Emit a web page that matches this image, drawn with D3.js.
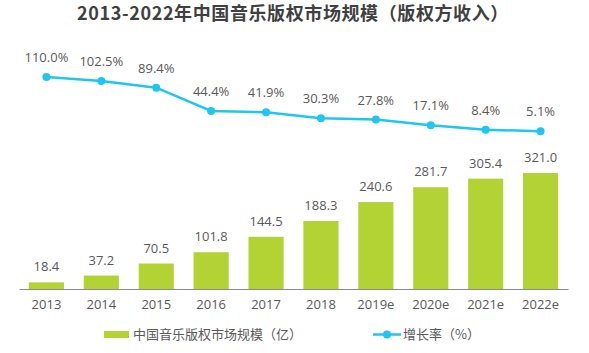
<!DOCTYPE html>
<html>
<head>
    <meta charset="utf-8">
    <script src="https://d3js.org/d3.v7.min.js"></script>
    <style>
        body { margin: 0; background: #fff; }
        text { font-family: "Open Sans", "Noto Sans CJK SC", sans-serif; }
    </style>
</head>
<body>
    <svg width="589" height="353" id="mainSvg"></svg>
    <script>
        const years = ["2013", "2014", "2015", "2016", "2017", "2018", "2019e", "2020e", "2021e", "2022e"];
        const marketSize = [18.4, 37.2, 70.5, 101.8, 144.5, 188.3, 240.6, 281.7, 305.4, 321.0];
        const growthRate = [110.0, 102.5, 89.4, 44.4, 41.9, 30.3, 27.8, 17.1, 8.4, 5.1];

        const svg = d3.select("#mainSvg");
        const barColor = "#b3d335", lineColor = "#1fc6f0", textColor = "#595959";
        const baseY = 289;

        const x = d3.scaleBand().domain(years).range([19, 568]).paddingInner(0.36).paddingOuter(0.18);
        const yBar = d3.scaleLinear().domain([0, 321]).range([baseY, 173]);
        const yLine = d3.scaleLinear().domain([0, 110]).range([134, 77]);

        // title
        svg.append("text")
            .attr("x", 293).attr("y", 20)
            .attr("text-anchor", "middle")
            .attr("font-size", 18).attr("font-weight", "bold")
            .attr("fill", "#404040")
            .style("font-family", "'Noto Sans CJK SC', sans-serif")
            .style("letter-spacing", "0.6px")
            .text("2013-2022年中国音乐版权市场规模（版权方收入）");

        // bars
        svg.selectAll(".bar").data(marketSize).join("rect")
            .attr("class", "bar")
            .attr("x", (d, i) => x(years[i]))
            .attr("y", d => yBar(d))
            .attr("width", x.bandwidth())
            .attr("height", d => baseY - yBar(d))
            .attr("fill", barColor);

        svg.selectAll(".barLabel").data(marketSize).join("text")
            .attr("class", "barLabel")
            .attr("x", (d, i) => x(years[i]) + x.bandwidth() / 2)
            .attr("y", d => yBar(d) - 11)
            .attr("text-anchor", "middle")
            .attr("font-size", 13).attr("fill", textColor)
            .text(d => d.toFixed(1));

        // x axis
        const xAxis = d3.axisBottom(x).tickSize(0).tickPadding(11);
        const axisG = svg.append("g").attr("transform", `translate(0, ${baseY})`).call(xAxis);
        axisG.select(".domain").attr("stroke", "#8c8c8c").attr("stroke-width", 1.2);
        axisG.selectAll("text").attr("font-size", 13).attr("fill", textColor)
            .style("font-family", "'Open Sans', sans-serif");

        // line
        const cx = i => x(years[i]) + x.bandwidth() / 2;
        const line = d3.line().x((d, i) => cx(i)).y(d => yLine(d));
        svg.append("path").datum(growthRate)
            .attr("d", line)
            .attr("fill", "none")
            .attr("stroke", lineColor)
            .attr("stroke-width", 2.5);
        svg.selectAll(".dot").data(growthRate).join("circle")
            .attr("class", "dot")
            .attr("cx", (d, i) => cx(i))
            .attr("cy", d => yLine(d))
            .attr("r", 4)
            .attr("fill", lineColor);
        svg.selectAll(".lineLabel").data(growthRate).join("text")
            .attr("class", "lineLabel")
            .attr("x", (d, i) => cx(i))
            .attr("y", d => yLine(d) - 15)
            .attr("text-anchor", "middle")
            .attr("font-size", 13).attr("fill", textColor)
            .text(d => d.toFixed(1) + "%");

        // legend
        const legend = svg.append("g");
        legend.append("rect").attr("x", 104).attr("y", 331).attr("width", 25).attr("height", 7).attr("fill", barColor);
        legend.append("text").attr("x", 133).attr("y", 339)
            .attr("font-size", 13).attr("fill", textColor)
            .style("font-family", "'Noto Sans CJK SC', sans-serif")
            .text("中国音乐版权市场规模（亿）");
        legend.append("line").attr("x1", 373).attr("x2", 401).attr("y1", 334.5).attr("y2", 334.5)
            .attr("stroke", lineColor).attr("stroke-width", 2.5);
        legend.append("circle").attr("cx", 387).attr("cy", 334.5).attr("r", 4).attr("fill", lineColor);
        legend.append("text").attr("x", 403).attr("y", 339)
            .attr("font-size", 13).attr("fill", textColor)
            .style("font-family", "'Noto Sans CJK SC', sans-serif")
            .text("增长率（%）");
    </script>
</body>
</html>
